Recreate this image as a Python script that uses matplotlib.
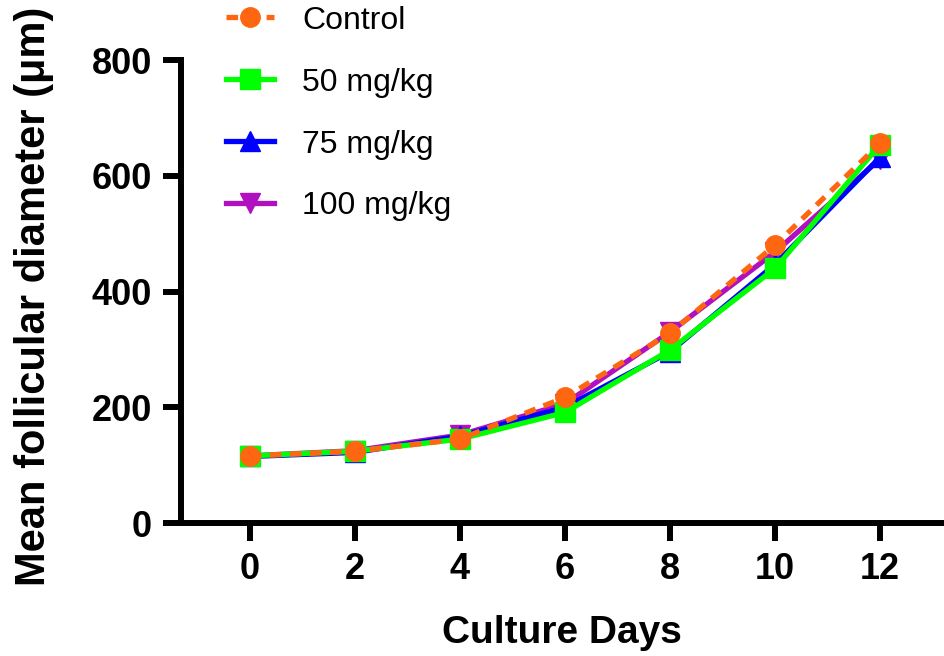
import numpy as np
import matplotlib
matplotlib.use('Agg')
import matplotlib.pyplot as plt

plt.rcParams['font.family'] = ['Liberation Sans', 'DejaVu Sans']

days = [0, 2, 4, 6, 8, 10, 12]
control = [116, 124, 145, 217, 328, 480, 656]
dose_50 = [116, 124, 145, 191, 299, 440, 654]
dose_75 = [115, 122, 150, 200, 296, 447, 632]
dose_100 = [116, 125, 152, 206, 330, 468, 629]

labels = ['Control', '50 mg/kg', '75 mg/kg', '100 mg/kg']
colors = ['#FF6611', '#00FF00', '#0000FF', '#B010C0']
y_ticks = [0, 200, 400, 600, 800]


def main():
    fig = plt.figure(figsize=(9.45, 6.56), dpi=100)
    ax = fig.add_axes([0.1915, 0.2027, 0.8065, 0.7058])

    lw = 3.8
    ms = 14
    h100, = ax.plot(days, dose_100, color=colors[3], lw=lw, marker='v', ms=ms, zorder=3)
    h75, = ax.plot(days, dose_75, color=colors[2], lw=lw, marker='^', ms=ms, zorder=4)
    h50, = ax.plot(days, dose_50, color=colors[1], lw=lw, marker='s', ms=ms, zorder=5)
    hc, = ax.plot(days, control, color=colors[0], lw=lw, ls=(0, (2.2, 1.6)),
                  marker='o', ms=ms, zorder=6)

    ax.set_xlim(-1.31, 13.2)
    ax.set_ylim(0, 800)
    ax.set_xticks(days)
    ax.set_yticks(y_ticks)

    for side in ['top', 'right']:
        ax.spines[side].set_visible(False)
    for side in ['left', 'bottom']:
        ax.spines[side].set_linewidth(4.3)
    ax.tick_params(width=4.3, length=13, labelsize=26, pad=8)
    for lab in ax.get_xticklabels() + ax.get_yticklabels():
        lab.set_fontweight('bold')

    ax.set_xlabel('Culture Days', fontsize=28, fontweight='bold', labelpad=20)
    ax.set_ylabel('Mean follicular diameter (μm)', fontsize=30, fontweight='bold', labelpad=27)
    ax.yaxis.label.set_y(0.489)

    leg = ax.legend([hc, h50, h75, h100], labels, loc='upper left',
                    bbox_to_anchor=(0.042, 1.145), frameon=False, fontsize=23,
                    handlelength=1.5, handletextpad=0.9, labelspacing=1.0,
                    borderaxespad=0)
    for line in leg.get_lines():
        line.set_linewidth(3.8)

    fig.savefig('out.png', dpi=100)


if __name__ == '__main__':
    main()
